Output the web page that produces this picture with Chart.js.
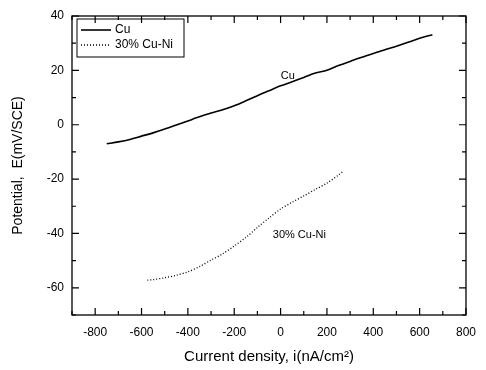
<!DOCTYPE html>
<html>
<head>
<meta charset="utf-8">
<script src="https://cdn.jsdelivr.net/npm/chart.js@4/dist/chart.umd.min.js"></script>
<style>
  html, body { margin: 0; padding: 0; background: #fff; }
  #wrap { width: 486px; height: 370px; position: relative; }
</style>
</head>
<body>
<div id="wrap"><canvas id="chart" width="486" height="370"></canvas></div>
<script>
// Cu polarization curve: current density (nA/cm2) vs potential (mV/SCE)
const cuCurrent = [-750, -700, -650, -600, -550, -500, -450, -400, -350, -300, -250, -200, -150, -100, -50,
    0, 50, 100, 150, 200, 250, 300, 350, 400, 450, 500, 550, 600, 655];
const cuPotential = [-7.0, -6.3, -5.4, -4.2, -3.0, -1.6, -0.1, 1.4, 2.9, 4.3, 5.5, 7.0, 8.8, 10.7, 12.5,
    14.3, 15.8, 17.4, 19.0, 20.0, 21.8, 23.3, 24.8, 26.2, 27.6, 28.9, 30.3, 31.8, 33.1];

// 30% Cu-Ni polarization curve
const cuNiCurrent = [-575, -550, -500, -450, -400, -350, -300, -250, -200, -150, -100, -50,
    0, 50, 100, 150, 200, 250, 272];
const cuNiPotential = [-57.2, -57.0, -56.3, -55.4, -54.1, -52.2, -49.8, -47.5, -44.6, -41.5, -37.8, -34.3,
    -31.0, -28.5, -26.2, -23.8, -21.5, -18.5, -17.0];

// tick labels
const xTicks = [-800, -600, -400, -200, 0, 200, 400, 600, 800];
const yTicks = [-60, -40, -20, 0, 20, 40];

// in-plot curve labels
const curveLabels = ['Cu', '30% Cu-Ni'];
const labelX = [31, 81];
const labelY = [18.1, -40.5];

const FONT = '"Liberation Sans", Arial, sans-serif';

// frame, inward ticks, curve labels and legend box
const framePlugin = {
    id: 'frame',
    afterDatasetsDraw(chart) {
        const { ctx, chartArea: a, scales: { x, y } } = chart;
        ctx.save();
        ctx.strokeStyle = '#000';
        ctx.lineWidth = 1.3;
        ctx.strokeRect(a.left, a.top, a.right - a.left, a.bottom - a.top);

        ctx.lineWidth = 1.2;
        ctx.beginPath();
        for (let v = -900; v <= 800; v += 100) {
            const px = x.getPixelForValue(v);
            const len = (v % 200 === 0) ? 7 : 4;
            ctx.moveTo(px, a.bottom); ctx.lineTo(px, a.bottom - len);
            ctx.moveTo(px, a.top); ctx.lineTo(px, a.top + len);
        }
        for (let v = -70; v <= 40; v += 10) {
            const py = y.getPixelForValue(v);
            const len = (v % 20 === 0) ? 7 : 4;
            ctx.moveTo(a.left, py); ctx.lineTo(a.left + len, py);
            ctx.moveTo(a.right, py); ctx.lineTo(a.right - len, py);
        }
        ctx.stroke();

        // curve labels
        ctx.fillStyle = '#000';
        ctx.font = '11px ' + FONT;
        ctx.textAlign = 'center';
        ctx.textBaseline = 'middle';
        curveLabels.forEach((t, i) => {
            ctx.fillText(t, x.getPixelForValue(labelX[i]), y.getPixelForValue(labelY[i]));
        });

        // legend
        const lx = a.left + 5, ly = a.top + 3;
        ctx.lineWidth = 1;
        ctx.strokeRect(lx, ly, 107, 38);
        ctx.textAlign = 'left';
        ctx.font = '12px ' + FONT;
        chart.data.datasets.forEach((ds, i) => {
            const yy = ly + 11 + i * 15;
            ctx.strokeStyle = '#000';
            ctx.lineWidth = ds.borderWidth;
            ctx.setLineDash(ds.borderDash || []);
            ctx.beginPath();
            ctx.moveTo(lx + 4, yy); ctx.lineTo(lx + 34, yy);
            ctx.stroke();
            ctx.setLineDash([]);
            ctx.fillText(ds.label, lx + 38, yy);
        });
        ctx.restore();
    }
};

new Chart(document.getElementById('chart'), {
    type: 'line',
    data: {
        datasets: [{
            label: 'Cu',
            data: cuCurrent.map((v, i) => ({ x: v, y: cuPotential[i] })),
            borderColor: '#000',
            borderWidth: 1.6,
            pointRadius: 0,
            tension: 0.3
        }, {
            label: '30% Cu-Ni',
            data: cuNiCurrent.map((v, i) => ({ x: v, y: cuNiPotential[i] })),
            borderColor: '#000',
            borderWidth: 1.3,
            borderDash: [1, 2],
            pointRadius: 0,
            tension: 0.3
        }]
    },
    options: {
        responsive: false,
        animation: false,
        layout: { padding: { top: 16, right: 11, left: 0, bottom: 0 } },
        scales: {
            x: {
                type: 'linear',
                min: -900,
                max: 800,
                afterBuildTicks: s => { s.ticks = xTicks.map(v => ({ value: v })); },
                afterFit: s => { s.height = 55; },
                grid: { display: false, drawTicks: false },
                border: { display: false },
                ticks: { color: '#000', font: { family: FONT, size: 12 }, padding: 10, maxRotation: 0 },
                title: {
                    display: true,
                    text: 'Current density, i(nA/cm²)',
                    color: '#000',
                    font: { family: FONT, size: 15 },
                    padding: { top: 6 }
                }
            },
            y: {
                type: 'linear',
                min: -70,
                max: 40,
                afterBuildTicks: s => { s.ticks = yTicks.map(v => ({ value: v })); },
                afterFit: s => { s.width = 72; },
                grid: { display: false, drawTicks: false },
                border: { display: false },
                ticks: { color: '#000', font: { family: FONT, size: 12 }, padding: 8 },
                title: {
                    display: true,
                    text: 'Potential,  E(mV/SCE)',
                    color: '#000',
                    font: { family: FONT, size: 14 },
                    padding: { top: 10, bottom: 4 }
                }
            }
        },
        plugins: {
            legend: { display: false },
            tooltip: { enabled: false }
        }
    },
    plugins: [framePlugin]
});
</script>
</body>
</html>
